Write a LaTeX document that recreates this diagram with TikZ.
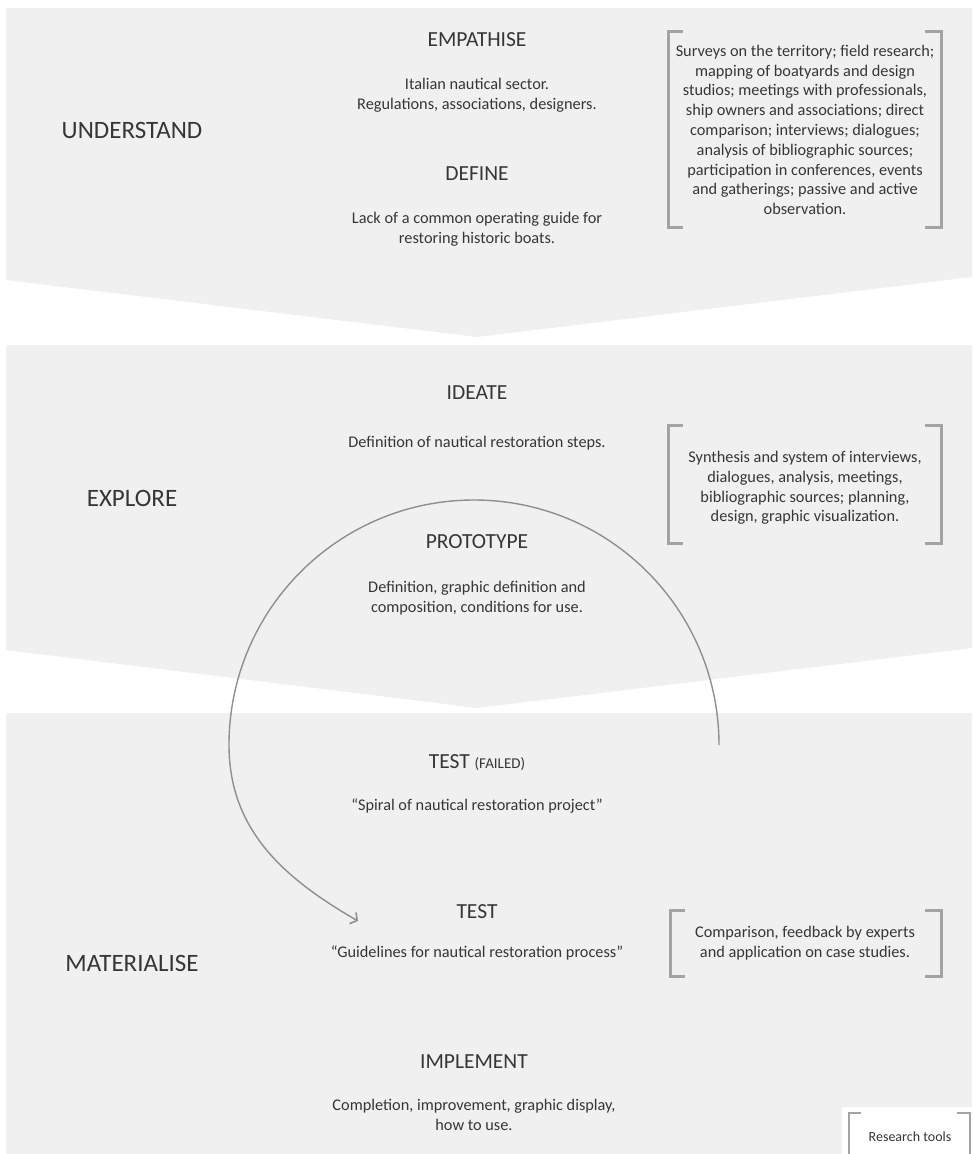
\documentclass[tikz,border=0pt]{standalone}
\usepackage{fontspec}
\setmainfont{Carlito}
\usetikzlibrary{arrows.meta}
\definecolor{bandc}{HTML}{F0F0F0}
\definecolor{brkc}{HTML}{A3A3A3}
\definecolor{txt}{HTML}{363636}
\definecolor{arcc}{HTML}{8F8F8F}
\begin{document}
\begin{tikzpicture}[x=1pt,y=1pt,
  head/.style={font=\fontsize{21.5}{24}\selectfont, text=txt, inner sep=0pt},
  phase/.style={font=\fontsize{25}{29}\selectfont, text=txt, inner sep=0pt},
  body/.style={font=\fontsize{16.3}{20.5}\selectfont, text=txt, align=center, inner sep=0pt},
  brk/.style={draw=brkc, line width=3pt},
  thinbrk/.style={draw=brkc, line width=1.3pt},
]
\useasboundingbox (0,0) rectangle (972,-1154);
\fill[white] (0,0) rectangle (972,-1154);
% bands
\fill[bandc] (6,-8) -- (972,-8) -- (972,-277) -- (477,-337) -- (6,-280) -- cycle;
\fill[bandc] (6,-345) -- (972,-345) -- (972,-648) -- (477,-708) -- (6,-650) -- cycle;
\fill[bandc] (6,-713) -- (972,-713) -- (972,-1154) -- (6,-1154) -- cycle;

% phase labels
\node[phase] (understand) at (132,-130) {UNDERSTAND};
\node[phase] (explore) at (132,-498) {EXPLORE};
\node[phase] (materialise) at (132,-963) {MATERIALISE};

% centre column
\node[head] (empathise) at (477,-40) {EMPATHISE};
\node[body] (empt) at (477,-95) {Italian nautical sector.\\Regulations, associations, designers.};
\node[head] (define) at (477,-174) {DEFINE};
\node[body] (deft) at (477,-229) {Lack of a common operating guide for\\restoring historic boats.};
\node[head] (ideate) at (477,-393) {IDEATE};
\node[body] (ideat) at (477,-443) {Definition of nautical restoration steps.};
\node[head] (prototype) at (477,-542) {PROTOTYPE};
\node[body] (protot) at (477,-598) {Definition, graphic definition and\\composition, conditions for use.};
\node[head] (testf) at (477,-763) {TEST {\fontsize{15}{17}\selectfont (FAILED)}};
\node[body] (spiral) at (477,-806) {“Spiral of nautical restoration project”};
\node[head] (test) at (477,-912) {TEST};
\node[body] (guide) at (477,-953) {“Guidelines for nautical restoration process”};
\node[head] (implement) at (474,-1062) {IMPLEMENT};
\node[body] (implt) at (474,-1115) {Completion, improvement, graphic display,\\how to use.};

% research tools brackets
\draw[brk] (683,-31) -- (668,-31) -- (668,-227) -- (683,-227);
\draw[brk] (925,-31) -- (941,-31) -- (941,-227) -- (925,-227);
\node[body, font=\fontsize{16.3}{19.8}\selectfont] (tools1) at (805,-130) {Surveys on the territory; field research;\\mapping of boatyards and design\\studios; meetings with professionals,\\ship owners and associations; direct\\comparison; interviews; dialogues;\\analysis of bibliographic sources;\\participation in conferences, events\\and gatherings; passive and active\\observation.};

\draw[brk] (683,-425) -- (668,-425) -- (668,-543) -- (683,-543);
\draw[brk] (925,-425) -- (941,-425) -- (941,-543) -- (925,-543);
\node[body, font=\fontsize{16.3}{19.8}\selectfont] (tools2) at (805,-488) {Synthesis and system of interviews,\\dialogues, analysis, meetings,\\bibliographic sources; planning,\\design, graphic visualization.};

\draw[brk] (685,-910) -- (670,-910) -- (670,-976) -- (685,-976);
\draw[brk] (925,-910) -- (941,-910) -- (941,-976) -- (925,-976);
\node[body, font=\fontsize{16.3}{19.8}\selectfont] (tools3) at (805,-943) {Comparison, feedback by experts\\and application on case studies.};

% spiral arrow
\coordinate (arcstart) at (719,-745);
\coordinate (arcend) at (358,-921);
\draw[arcc, line width=1.4pt, -{Straight Barb[length=5pt,width=13pt,line width=1.6pt]}]
  (arcstart) arc[start angle=0, end angle=180, radius=245pt]
  to[out=-90, in=150] (arcend);

% legend
\fill[white] (842,-1107) rectangle (972,-1154);
\draw[thinbrk] (861,-1113) -- (849,-1113) -- (849,-1154);
\draw[thinbrk] (957,-1113) -- (970,-1113) -- (970,-1154);
\node[font=\fontsize{14}{16}\selectfont, text=txt, inner sep=0pt] (legend) at (910,-1137) {Research tools};
\end{tikzpicture}
\end{document}
